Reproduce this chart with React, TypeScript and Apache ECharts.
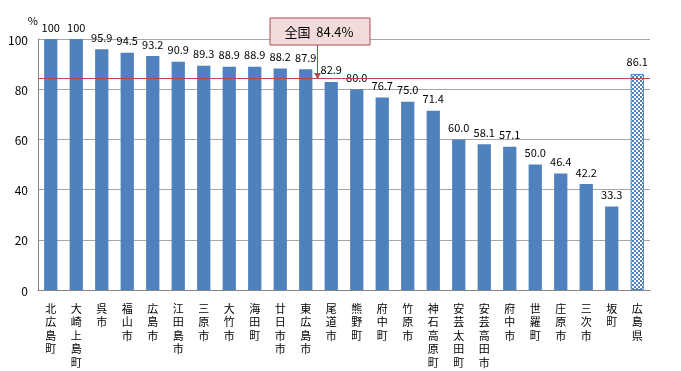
import React, { useEffect, useRef } from "react";
import * as echarts from "echarts";

const categories = [
  "北広島町", "大崎上島町", "呉市", "福山市", "広島市", "江田島市", "三原市", "大竹市",
  "海田町", "廿日市市", "東広島市", "尾道市", "熊野町", "府中町", "竹原市", "神石高原町",
  "安芸太田町", "安芸高田市", "府中市", "世羅町", "庄原市", "三次市", "坂町", "広島県",
];
const values = [
  100, 100, 95.9, 94.5, 93.2, 90.9, 89.3, 88.9, 88.9, 88.2, 87.9, 82.9, 80.0, 76.7, 75.0, 71.4,
  60.0, 58.1, 57.1, 50.0, 46.4, 42.2, 33.3, 86.1,
];
const nationalValue = 84.4;
const nationalLabel = "全国";
const yTicks = [0, 20, 40, 60, 80, 100];

const FONT = "'Noto Sans CJK JP', 'Noto Sans', sans-serif";
const BLUE = "#4F81BD";
const RED = "#B5494A";

function makePattern(): string {
  const c = document.createElement("canvas");
  c.width = 4;
  c.height = 4;
  const ctx = c.getContext("2d")!;
  ctx.fillStyle = "#ffffff";
  ctx.fillRect(0, 0, 4, 4);
  ctx.fillStyle = BLUE;
  ctx.fillRect(0, 0, 2, 2);
  ctx.fillRect(2, 2, 2, 2);
  return c.toDataURL();
}

export default function App() {
  const ref = useRef<HTMLDivElement>(null);
  useEffect(() => {
    if (!ref.current) return;
    const chart = echarts.init(ref.current, undefined, { renderer: "svg" });
    const pattern = makePattern();
    const data = values.map((v, i) =>
      i === values.length - 1
        ? {
            value: v,
            itemStyle: {
              color: { image: pattern, repeat: "repeat" } as any,
              borderColor: BLUE,
              borderWidth: 1,
            },
          }
        : { value: v }
    );
    chart.setOption({
      animation: false,
      grid: { left: 38, right: 31, top: 39, bottom: 81 },
      xAxis: {
        type: "category",
        data: categories,
        axisLine: { lineStyle: { color: "#868686" } },
        axisTick: { inside: true, length: 4, lineStyle: { color: "#868686" } },
        axisLabel: {
          interval: 0,
          fontFamily: FONT,
          fontSize: 11,
          lineHeight: 13.5,
          color: "#000",
          margin: 11,
          verticalAlign: "top",
          formatter: (s: string) => s.split("").join("\n"),
        },
      },
      yAxis: {
        type: "value",
        min: 0,
        max: 100,
        interval: 20,
        name: "%",
        nameLocation: "end",
        nameGap: 14,
        nameTextStyle: { fontFamily: FONT, fontSize: 11, color: "#000", align: "right", padding: [0, 0, 0, 0] },
        axisLine: { show: true, lineStyle: { color: "#868686" } },
        axisTick: { show: false },
        splitLine: { lineStyle: { color: "#A6A6A6" } },
        axisLabel: {
          fontFamily: FONT,
          fontSize: 12,
          color: "#000",
          margin: 10,
          formatter: (v: number) => (yTicks.includes(v) ? String(v) : ""),
        },
      },
      series: [
        {
          type: "bar",
          data,
          barWidth: "52%",
          itemStyle: { color: BLUE },
          label: {
            show: true,
            position: "top",
            distance: 7,
            fontFamily: FONT,
            fontSize: 11,
            color: "#000",
            formatter: (p: any) => (p.value === 100 ? "100" : Number(p.value).toFixed(1)),
          },
          markLine: {
            silent: true,
            symbol: "none",
            label: { show: false },
            lineStyle: { color: RED, type: "solid", width: 1 },
            data: [{ yAxis: nationalValue }],
          },
        },
      ],
      graphic: [
        {
          type: "line",
          shape: { x1: 317.5, y1: 45, x2: 317.5, y2: 75 },
          style: { stroke: RED, lineWidth: 1 },
          z: 10,
        },
        {
          type: "polygon",
          shape: { points: [[314, 73], [321, 73], [317.5, 79]] },
          style: { fill: RED },
          z: 10,
        },
        {
          type: "rect",
          shape: { x: 270, y: 18, width: 100, height: 27 },
          style: { fill: "#F2DCDB", stroke: RED, lineWidth: 1 },
          z: 10,
        },
        {
          type: "text",
          x: 319,
          y: 31.5,
          style: {
            text: nationalLabel + "  " + nationalValue.toFixed(1) + "%",
            fontFamily: FONT,
            fontSize: 13,
            fill: "#000",
            align: "center",
            verticalAlign: "middle",
          },
          z: 11,
        },
      ],
    });
    return () => chart.dispose();
  }, []);
  return (
    <div
      ref={ref}
      style={{ position: "fixed", left: 0, top: 0, width: 681, height: 371 }}
    />
  );
}
